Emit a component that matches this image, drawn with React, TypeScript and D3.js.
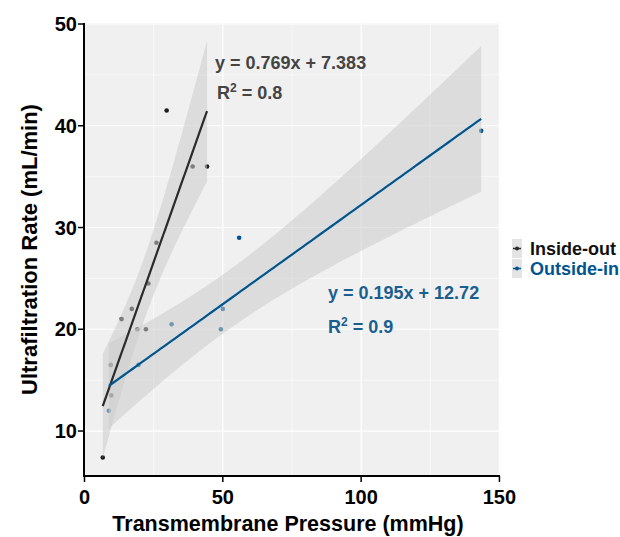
import React from 'react';
import * as d3 from 'd3';

// values
const insidePressure = [6.6, 9.7, 9.5, 13.4, 17.1, 19.1, 22.2, 23.1, 26.0, 29.7, 39.1, 44.3];
const insideRate = [7.4, 13.5, 16.5, 21.0, 22.0, 20.0, 20.0, 24.5, 28.5, 41.5, 36.0, 36.0];
const outsidePressure = [8.8, 19.5, 31.5, 49.3, 50.0, 55.9, 143.4];
const outsideRate = [12.0, 16.5, 20.5, 20.0, 22.0, 29.0, 39.5];

const seriesNames = ['Inside-out', 'Outside-in'];
const slopes = [0.769, 0.195];
const intercepts = [7.383, 12.72];
const eqLabels = ['y = 0.769x + 7.383', 'y = 0.195x + 12.72'];
const r2Values = ['0.8', '0.9'];

const xTicks = [0, 50, 100, 150];
const yTicks = [10, 20, 30, 40, 50];

// 97.5% t quantiles by degrees of freedom
const tCrit: Record<number, number> = { 3: 3.182, 4: 2.776, 5: 2.571, 6: 2.447, 7: 2.365, 8: 2.306, 9: 2.262, 10: 2.228, 11: 2.201, 12: 2.179 };

const W = 620;
const H = 537;
const panel = { left: 84, right: 500, top: 23, bottom: 476 };
const colors = ['#2b2b2b', '#00558f'];
const textColors = ['#444444', '#1a5f8f'];
const font = '"Liberation Sans", Arial, sans-serif';

const x = d3.scaleLinear().domain([0, 150.2]).range([84.5, 500]);
const y = d3.scaleLinear().domain([5.58, 50.1]).range([476, 23]);

function fitBand(xs: number[], ys: number[], b: number, a: number) {
    const n = xs.length;
    const mx = d3.mean(xs) as number;
    const sxx = d3.sum(xs, v => (v - mx) ** 2);
    const sse = d3.sum(xs, (v, i) => (ys[i] - (a + b * v)) ** 2);
    const se = Math.sqrt(sse / (n - 2));
    const t = tCrit[n - 2] ?? 2;
    const [lo, hi] = d3.extent(xs) as [number, number];
    const grid = d3.range(80).map(i => lo + (hi - lo) * i / 79);
    return grid.map(g => {
        const fit = a + b * g;
        const h = t * se * Math.sqrt(1 / n + (g - mx) ** 2 / sxx);
        return { x: g, fit, lo: fit - h, hi: fit + h };
    });
}

export default function App() {
    const series = [
        { xs: insidePressure, ys: insideRate },
        { xs: outsidePressure, ys: outsideRate },
    ].map((s, i) => ({ ...s, band: fitBand(s.xs, s.ys, slopes[i], intercepts[i]) }));

    const area = d3.area<any>().x(d => x(d.x)).y0(d => y(d.lo)).y1(d => y(d.hi));
    const line = d3.line<any>().x(d => x(d.x)).y(d => y(d.fit));

    const xMinor = [25, 75, 125];
    const yMinor = [15, 25, 35, 45];

    return (
        <svg width={W} height={H} style={{ position: 'absolute', left: 0, top: 0, background: '#fff' }} fontFamily={font}>
            <defs>
                <clipPath id="panel">
                    <rect x={panel.left} y={panel.top} width={panel.right - panel.left} height={panel.bottom - panel.top} />
                </clipPath>
            </defs>
            <rect x={panel.left} y={panel.top} width={panel.right - panel.left} height={panel.bottom - panel.top} fill="#f0f0f0" />
            <g clipPath="url(#panel)">
                {xMinor.map(v => <line key={'xm' + v} x1={x(v)} x2={x(v)} y1={panel.top} y2={panel.bottom} stroke="#fff" strokeWidth={0.6} />)}
                {yMinor.map(v => <line key={'ym' + v} y1={y(v)} y2={y(v)} x1={panel.left} x2={panel.right} stroke="#fff" strokeWidth={0.6} />)}
                {xTicks.map(v => <line key={'xg' + v} x1={x(v)} x2={x(v)} y1={panel.top} y2={panel.bottom} stroke="#fff" strokeWidth={1.2} />)}
                {yTicks.map(v => <line key={'yg' + v} y1={y(v)} y2={y(v)} x1={panel.left} x2={panel.right} stroke="#fff" strokeWidth={1.2} />)}

                {series.map((s, i) => s.xs.map((v, j) => (
                    <circle key={`p${i}-${j}`} cx={x(v)} cy={y(s.ys[j])} r={2.3} fill={i === 0 ? '#1e1e1e' : colors[1]} />
                )))}
                {series.map((s, i) => (
                    <path key={'band' + i} d={area(s.band) ?? ''} fill="#cccccc" fillOpacity={0.55} />
                ))}
                {series.map((s, i) => (
                    <path key={'line' + i} d={line(s.band) ?? ''} fill="none" stroke={colors[i]} strokeWidth={2.2} />
                ))}
            </g>

            {/* equations */}
            <g fontWeight="bold" fontSize={18}>
                <text x={215} y={69} fill={textColors[0]}>{eqLabels[0]}</text>
                <text x={217} y={99} fill={textColors[0]}>R<tspan dy={-7} fontSize={12}>2</tspan><tspan dy={7}> = {r2Values[0]}</tspan></text>
                <text x={328} y={299} fill={textColors[1]}>{eqLabels[1]}</text>
                <text x={328} y={333} fill={textColors[1]}>R<tspan dy={-7} fontSize={12}>2</tspan><tspan dy={7}> = {r2Values[1]}</tspan></text>
            </g>

            {/* axes */}
            <line x1={panel.left} x2={panel.left} y1={panel.top} y2={panel.bottom + 1} stroke="#000" strokeWidth={2} />
            <line x1={panel.left - 1} x2={panel.right} y1={panel.bottom} y2={panel.bottom} stroke="#000" strokeWidth={2} />
            {yTicks.map(v => (
                <g key={'yt' + v}>
                    <line x1={panel.left - 6} x2={panel.left} y1={y(v)} y2={y(v)} stroke="#000" strokeWidth={1.5} />
                    <text x={panel.left - 7} y={y(v)} dy="0.35em" textAnchor="end" fontSize={20} fontWeight="bold">{v}</text>
                </g>
            ))}
            {xTicks.map(v => (
                <g key={'xt' + v}>
                    <line x1={x(v)} x2={x(v)} y1={panel.bottom} y2={panel.bottom + 6} stroke="#000" strokeWidth={1.5} />
                    <text x={x(v)} y={panel.bottom + 28} textAnchor="middle" fontSize={20} fontWeight="bold">{v}</text>
                </g>
            ))}
            <text x={288} y={531} textAnchor="middle" fontSize={21.5} fontWeight="bold">Transmembrane Pressure (mmHg)</text>
            <text transform={`translate(37,${(panel.top + panel.bottom) / 2}) rotate(-90)`} textAnchor="middle" fontSize={22} fontWeight="bold">Ultrafiltration Rate (mL/min)</text>

            {/* legend */}
            <g>
                {seriesNames.map((name, i) => (
                    <g key={name} transform={`translate(512,${239 + i * 20})`}>
                        <rect x={0} y={0} width={10} height={19} fill="#e4e4e4" />
                        <line x1={1} x2={9} y1={9.5} y2={9.5} stroke={colors[i]} strokeWidth={1.5} />
                        <circle cx={5} cy={9.5} r={2} fill={colors[i]} />
                        <text x={18} y={9.5} dy="0.35em" fontSize={18} fontWeight="bold" fill={i === 0 ? '#111' : colors[i]}>{name}</text>
                    </g>
                ))}
            </g>
        </svg>
    );
}
